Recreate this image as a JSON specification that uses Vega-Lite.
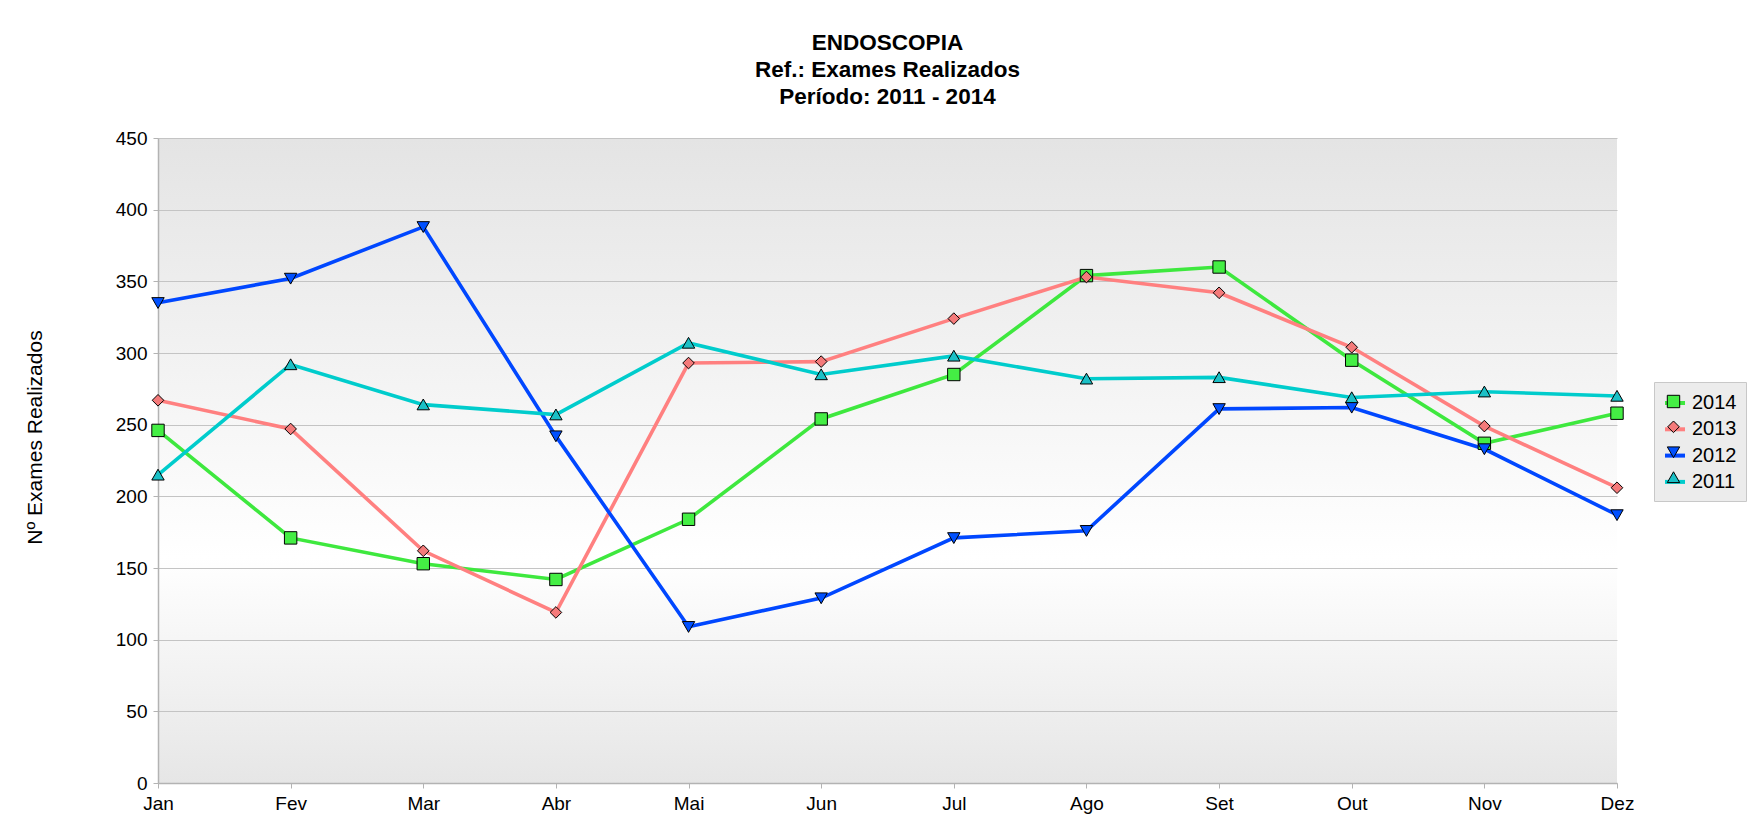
{
  "$schema": "https://vega.github.io/schema/vega-lite/v6.json",
  "autosize": {"type": "none"},
  "padding": {"left": 158, "top": 138, "right": 137, "bottom": 42},
  "width": 1459,
  "height": 645,
  "background": "#ffffff",
  "config": {
    "font": "Liberation Sans",
    "view": {
      "stroke": null,
      "fill": {
        "gradient": "linear", "x1": 0, "y1": 0, "x2": 0, "y2": 1,
        "stops": [
          {"offset": 0, "color": "#e4e4e4"},
          {"offset": 0.65, "color": "#ffffff"},
          {"offset": 1, "color": "#e6e6e6"}
        ]
      }
    }
  },
  "title": {
    "text": ["ENDOSCOPIA", "Ref.: Exames Realizados", "Período: 2011 - 2014"],
    "font": "Liberation Sans",
    "fontSize": 22.5,
    "fontWeight": "bold",
    "color": "#000000",
    "lineHeight": 27,
    "anchor": "middle",
    "frame": "group",
    "offset": 21
  },
  "data": {
    "values": [
      {"mes": "Jan", "ano": "2014", "valor": 246},
      {"mes": "Fev", "ano": "2014", "valor": 171},
      {"mes": "Mar", "ano": "2014", "valor": 153},
      {"mes": "Abr", "ano": "2014", "valor": 142},
      {"mes": "Mai", "ano": "2014", "valor": 184},
      {"mes": "Jun", "ano": "2014", "valor": 254},
      {"mes": "Jul", "ano": "2014", "valor": 285},
      {"mes": "Ago", "ano": "2014", "valor": 354},
      {"mes": "Set", "ano": "2014", "valor": 360},
      {"mes": "Out", "ano": "2014", "valor": 295},
      {"mes": "Nov", "ano": "2014", "valor": 237},
      {"mes": "Dez", "ano": "2014", "valor": 258},
      {"mes": "Jan", "ano": "2013", "valor": 267},
      {"mes": "Fev", "ano": "2013", "valor": 247},
      {"mes": "Mar", "ano": "2013", "valor": 162},
      {"mes": "Abr", "ano": "2013", "valor": 119},
      {"mes": "Mai", "ano": "2013", "valor": 293},
      {"mes": "Jun", "ano": "2013", "valor": 294},
      {"mes": "Jul", "ano": "2013", "valor": 324},
      {"mes": "Ago", "ano": "2013", "valor": 353},
      {"mes": "Set", "ano": "2013", "valor": 342},
      {"mes": "Out", "ano": "2013", "valor": 304},
      {"mes": "Nov", "ano": "2013", "valor": 249},
      {"mes": "Dez", "ano": "2013", "valor": 206},
      {"mes": "Jan", "ano": "2012", "valor": 335},
      {"mes": "Fev", "ano": "2012", "valor": 352},
      {"mes": "Mar", "ano": "2012", "valor": 388},
      {"mes": "Abr", "ano": "2012", "valor": 242},
      {"mes": "Mai", "ano": "2012", "valor": 109},
      {"mes": "Jun", "ano": "2012", "valor": 129},
      {"mes": "Jul", "ano": "2012", "valor": 171},
      {"mes": "Ago", "ano": "2012", "valor": 176},
      {"mes": "Set", "ano": "2012", "valor": 261},
      {"mes": "Out", "ano": "2012", "valor": 262},
      {"mes": "Nov", "ano": "2012", "valor": 233},
      {"mes": "Dez", "ano": "2012", "valor": 187},
      {"mes": "Jan", "ano": "2011", "valor": 215},
      {"mes": "Fev", "ano": "2011", "valor": 292},
      {"mes": "Mar", "ano": "2011", "valor": 264},
      {"mes": "Abr", "ano": "2011", "valor": 257},
      {"mes": "Mai", "ano": "2011", "valor": 307},
      {"mes": "Jun", "ano": "2011", "valor": 285},
      {"mes": "Jul", "ano": "2011", "valor": 298},
      {"mes": "Ago", "ano": "2011", "valor": 282},
      {"mes": "Set", "ano": "2011", "valor": 283},
      {"mes": "Out", "ano": "2011", "valor": 269},
      {"mes": "Nov", "ano": "2011", "valor": 273},
      {"mes": "Dez", "ano": "2011", "valor": 270}
    ]
  },
  "encoding": {
    "x": {
      "field": "mes", "type": "ordinal",
      "sort": ["Jan", "Fev", "Mar", "Abr", "Mai", "Jun", "Jul", "Ago", "Set", "Out", "Nov", "Dez"],
      "scale": {"type": "point", "padding": 0},
      "axis": {
        "title": null, "labelAngle": 0, "labelFontSize": 19, "labelColor": "#000000",
        "labelPadding": 6, "tickSize": 5, "tickColor": "#b3b3b3", "domainColor": "#b3b3b3",
        "domainWidth": 1.5, "grid": false, "labelFont": "Liberation Sans"
      }
    },
    "y": {
      "field": "valor", "type": "quantitative",
      "scale": {"domain": [0, 450], "nice": false},
      "axis": {
        "title": "Nº Exames Realizados", "titleFontSize": 21, "titleFontWeight": "normal",
        "titleColor": "#000000", "titleX": -123, "titleY": 299, "titleAngle": -90,
        "titleAlign": "center", "titleBaseline": "middle", "titleFont": "Liberation Sans",
        "values": [0, 50, 100, 150, 200, 250, 300, 350, 400, 450],
        "labelFontSize": 19, "labelColor": "#000000", "labelPadding": 6,
        "tickSize": 5, "tickColor": "#b3b3b3", "domainColor": "#b3b3b3", "domainWidth": 1.5,
        "grid": true, "gridColor": "#c4c4c4", "gridWidth": 1.2, "labelFont": "Liberation Sans"
      }
    }
  },
  "layer": [
    {
      "mark": {"type": "line", "strokeWidth": 3.6},
      "encoding": {
        "stroke": {
          "field": "ano", "type": "nominal",
          "scale": {"domain": ["2014", "2013", "2012", "2011"], "range": ["#3ee83e", "#ff8080", "#0047ff", "#00cccc"]},
          "legend": {
            "title": null, "orient": "none", "legendX": 1496, "legendY": 244,
            "symbolType": "stroke", "symbolSize": 400, "symbolStrokeWidth": 4,
            "labelFontSize": 20, "labelColor": "#000000", "labelFont": "Liberation Sans",
            "rowPadding": 4.3, "labelOffset": 5, "padding": 9,
            "fillColor": "#ececec", "strokeColor": "#c8c8c8", "zindex": 1
          }
        }
      }
    },
    {
      "mark": {"type": "point", "filled": true, "size": 400, "stroke": "#000000", "strokeWidth": 1, "opacity": 1},
      "encoding": {
        "fill": {
          "field": "ano", "type": "nominal", "sort": "descending",
          "scale": {"range": ["#44ee44", "#f47a7a", "#0050ff", "#1bc0c6"]},
          "legend": {
            "title": null, "orient": "none", "legendX": 1496, "legendY": 244,
            "symbolSize": 400, "symbolStrokeColor": "#000000", "symbolStrokeWidth": 1,
            "labelFontSize": 20, "labelExpr": "''", "labelFont": "Liberation Sans",
            "rowPadding": 4.3, "labelOffset": 5, "padding": 9, "zindex": 2
          }
        },
        "shape": {
          "field": "ano", "type": "nominal", "sort": "descending",
          "scale": {
            "range": [
              "M-0.62,-0.62H0.62V0.62H-0.62Z",
              "M0,-0.58L0.58,0L0,0.58L-0.58,0Z",
              "M-0.62,-0.52L0.62,-0.52L0,0.56Z",
              "M0,-0.56L0.62,0.52L-0.62,0.52Z"
            ]
          }
        }
      }
    }
  ]
}
